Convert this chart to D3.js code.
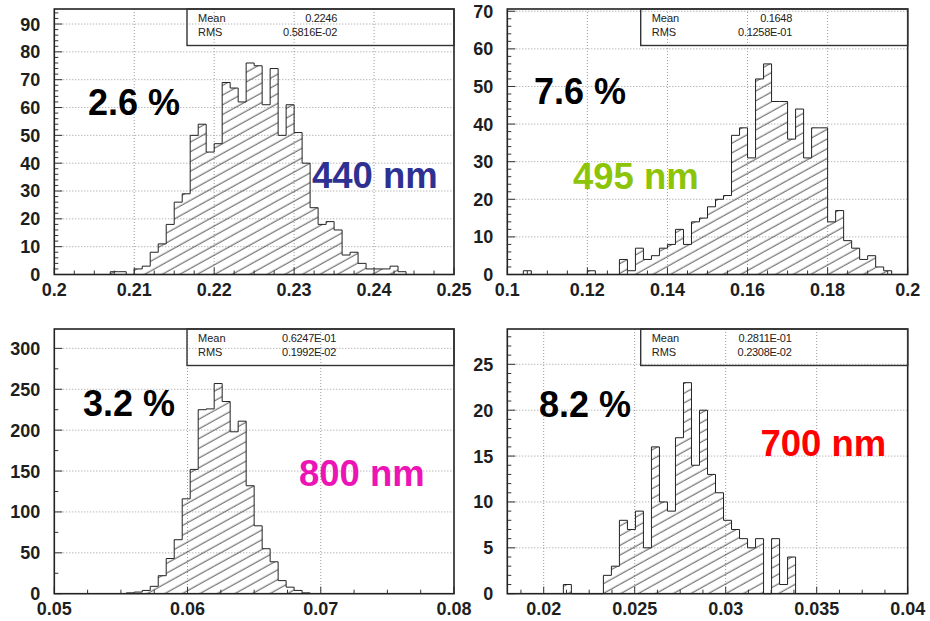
<!DOCTYPE html>
<html>
<head>
<meta charset="utf-8">
<script src="https://cdn.jsdelivr.net/npm/d3@7"></script>
<style>
  body { margin: 0; background: #fff; }
  svg text { font-family: "Liberation Sans", Arial, Helvetica, sans-serif; }
</style>
</head>
<body>
<svg id="chart" width="930" height="621"></svg>
<script>
// bin counts, 50 bins per histogram
const counts440 = [0,0,0,0,0,0,0,1,1,0, 2,3,8,11,18,26,29,50,54,44, 47,69,67,62,76,75,61,74,50,61,
                   51,40,24,18,19,16,7,8,4,2, 2,2,3,1,0,0,0,0,0,0];
const counts495 = [0,0,1,0,0,0,0,0,0,0, 1,0,0,0,4,1,7,4,5,7, 8,12,8,14,15,18,20,21,37,39,
                   31,52,56,46,46,36,44,31,39,39, 14,17,9,7,4,5,2,1,0,0];
const counts800 = [0,0,0,0,0,0,0,0,0,1, 2,4,9,22,43,66,116,152,225,226, 257,235,198,211,132,83,55,39,16,8,
                   4,1,0,0,0,0,0,0,0,0, 0,0,0,0,0,0,0,0,0,0];
const counts700 = [0,0,0,0,0,0,0,1,0,0, 0,0,2,3,8,7,9,5,16,10, 9,17,23,14,20,13,11,8,7,6,
                   5,6,0,6,1,4,0,0,0,0, 0,0,0,0,0,0,0,0,0,0];

const ranges = [[0.2, 0.25], [0.1, 0.2], [0.05, 0.08], [0.018, 0.04]];
const xTicks440 = [0.2, 0.21, 0.22, 0.23, 0.24, 0.25];
const xTicks495 = [0.1, 0.12, 0.14, 0.16, 0.18, 0.2];
const xTicks800 = [0.05, 0.06, 0.07, 0.08];
const xTicks700 = [0.02, 0.025, 0.03, 0.035, 0.04];
const yTicks440 = [0, 10, 20, 30, 40, 50, 60, 70, 80, 90];
const yTicks495 = [0, 10, 20, 30, 40, 50, 60, 70];
const yTicks800 = [0, 50, 100, 150, 200, 250, 300];
const yTicks700 = [0, 5, 10, 15, 20, 25];
const yMaxes = [95.4, 70.6, 323.7, 28.85];

const statLabels = ['Mean', 'RMS'];
const stats440 = ['0.2246', '0.5816E-02'];
const stats495 = ['0.1648', '0.1258E-01'];
const stats800 = ['0.6247E-01', '0.1992E-02'];
const stats700 = ['0.2811E-01', '0.2308E-02'];

const resolutions = ['2.6 %', '7.6 %', '3.2 %', '8.2 %'];
const wavelengths = ['440 nm', '495 nm', '800 nm', '700 nm'];
const waveColors = ['#2e3192', '#8cc408', '#ec14b4', '#ff0000'];

const svg = d3.select('#chart');

const defs = svg.append('defs');
defs.append('pattern')
    .attr('id', 'hatch')
    .attr('patternUnits', 'userSpaceOnUse')
    .attr('width', 8).attr('height', 8.5)
    .attr('patternTransform', 'rotate(-29)')
  .append('line')
    .attr('x1', -1).attr('y1', 4).attr('x2', 9).attr('y2', 4)
    .attr('stroke', '#3a3a3a').attr('stroke-width', 0.9);

// layout of the four pads
const panels = [
  { counts: counts440, range: ranges[0], xTicks: xTicks440, yTicks: yTicks440, yMax: yMaxes[0],
    xMinor: 0.0025, yMinor: 2, stats: stats440, res: resolutions[0], wl: wavelengths[0], color: waveColors[0],
    left: 54.3, right: 454, top: 9, bottom: 274.5, boxLeft: 187, valRight: 337,
    resPos: [88, 115], wlPos: [312, 188] },
  { counts: counts495, range: ranges[1], xTicks: xTicks495, yTicks: yTicks495, yMax: yMaxes[1],
    xMinor: 0.005, yMinor: 2, stats: stats495, res: resolutions[1], wl: wavelengths[1], color: waveColors[1],
    left: 507.3, right: 907.7, top: 9, bottom: 274.5, boxLeft: 640.7, valRight: 792,
    resPos: [534, 104], wlPos: [573, 188.5] },
  { counts: counts800, range: ranges[2], xTicks: xTicks800, yTicks: yTicks800, yMax: yMaxes[2],
    xMinor: 0.0025, yMinor: 25, stats: stats800, res: resolutions[2], wl: wavelengths[2], color: waveColors[2],
    left: 54.3, right: 454, top: 329, bottom: 593.7, boxLeft: 187, valRight: 336,
    resPos: [83, 415.5], wlPos: [299, 485.5] },
  { counts: counts700, range: ranges[3], xTicks: xTicks700, yTicks: yTicks700, yMax: yMaxes[3],
    xMinor: 0.00125, yMinor: 1, stats: stats700, res: resolutions[3], wl: wavelengths[3], color: waveColors[3],
    left: 507.3, right: 907.7, top: 329, bottom: 593.7, boxLeft: 640.7, valRight: 791.5,
    resPos: [539, 416.5], wlPos: [760.5, 455.5] }
];

function minorValues(lo, hi, step) {
  const out = [];
  const start = Math.ceil(lo / step - 1e-6) * step;
  for (let v = start; v <= hi + 1e-9; v += step) out.push(v);
  return out;
}

function drawPanel(p) {
  const nBins = p.counts.length;
  const binW = (p.range[1] - p.range[0]) / nBins;
  const x = d3.scaleLinear().domain(p.range).range([p.left, p.right]);
  const y = d3.scaleLinear().domain([0, p.yMax]).range([p.bottom, p.top]);
  const g = svg.append('g');

  // dotted grid at the major ticks
  const eps = 1e-9;
  g.append('g').selectAll('line')
    .data(p.xTicks.filter(v => v > p.range[0] + eps && v < p.range[1] - eps))
    .join('line')
      .attr('x1', d => x(d)).attr('x2', d => x(d))
      .attr('y1', p.top).attr('y2', p.bottom)
      .attr('stroke', '#9a9a9a').attr('stroke-width', 1).attr('stroke-dasharray', '1,2');
  g.append('g').selectAll('line')
    .data(p.yTicks.filter(v => v > 0 && v < p.yMax))
    .join('line')
      .attr('x1', p.left).attr('x2', p.right)
      .attr('y1', d => y(d)).attr('y2', d => y(d))
      .attr('stroke', '#9a9a9a').attr('stroke-width', 1).attr('stroke-dasharray', '1,2');

  // hatched bars
  const bins = p.counts.map((c, i) => ({ lo: p.range[0] + i * binW, hi: p.range[0] + (i + 1) * binW, c }));
  g.append('g').selectAll('rect')
    .data(bins.filter(b => b.c > 0))
    .join('rect')
      .attr('x', d => x(d.lo)).attr('width', d => x(d.hi) - x(d.lo))
      .attr('y', d => y(d.c)).attr('height', d => y(0) - y(d.c))
      .attr('fill', 'url(#hatch)');

  // step outline
  const first = bins.findIndex(b => b.c > 0);
  let last = bins.length - 1;
  while (bins[last].c === 0) last--;
  const pts = [[bins[first].lo, 0]];
  for (let i = first; i <= last; i++) {
    pts.push([bins[i].lo, bins[i].c], [bins[i].hi, bins[i].c]);
  }
  pts.push([bins[last].hi, 0]);
  g.append('path')
    .attr('d', d3.line().x(d => x(d[0])).y(d => y(d[1]))(pts))
    .attr('fill', 'none').attr('stroke', '#222').attr('stroke-width', 1);

  // ticks (inside the frame)
  const xMinorTicks = minorValues(p.range[0], p.range[1], p.xMinor);
  g.append('g').selectAll('line')
    .data(xMinorTicks)
    .join('line')
      .attr('x1', d => x(d)).attr('x2', d => x(d))
      .attr('y1', p.bottom)
      .attr('y2', d => p.bottom - (p.xTicks.some(t => Math.abs(t - d) < 1e-7) ? 7 : 4))
      .attr('stroke', '#333').attr('stroke-width', 1);
  const yMinorTicks = minorValues(0, p.yMax, p.yMinor);
  g.append('g').selectAll('line')
    .data(yMinorTicks)
    .join('line')
      .attr('y1', d => y(d)).attr('y2', d => y(d))
      .attr('x1', p.left)
      .attr('x2', d => p.left + (p.yTicks.some(t => Math.abs(t - d) < 1e-7) ? 8 : 4))
      .attr('stroke', '#333').attr('stroke-width', 1);

  // frame
  g.append('rect')
    .attr('x', p.left).attr('y', p.top)
    .attr('width', p.right - p.left).attr('height', p.bottom - p.top)
    .attr('fill', 'none').attr('stroke', '#222').attr('stroke-width', 1.6);

  // tick labels
  g.append('g').selectAll('text')
    .data(p.xTicks)
    .join('text')
      .attr('x', d => x(d)).attr('y', p.bottom + 21.5)
      .attr('text-anchor', 'middle')
      .attr('font-size', 18).attr('font-weight', 'bold')
      .attr('fill', '#1e1e1e')
      .text(d => String(d));
  g.append('g').selectAll('text')
    .data(p.yTicks)
    .join('text')
      .attr('x', p.left - 14).attr('y', d => y(d)).attr('dy', '0.36em')
      .attr('text-anchor', 'end')
      .attr('font-size', 18).attr('font-weight', 'bold')
      .attr('fill', '#1e1e1e')
      .text(d => String(d));

  // stats box
  g.append('rect')
    .attr('x', p.boxLeft).attr('y', p.top)
    .attr('width', p.right - p.boxLeft).attr('height', 36.5)
    .attr('fill', 'none').attr('stroke', '#333').attr('stroke-width', 1.4);
  statLabels.forEach((lab, i) => {
    const by = p.top + 12.8 + i * 13.8;
    g.append('text').attr('x', p.boxLeft + 11).attr('y', by)
      .attr('font-size', 11).attr('fill', '#222').text(lab);
    g.append('text').attr('x', p.valRight).attr('y', by)
      .attr('text-anchor', 'end').attr('letter-spacing', -0.3)
      .attr('font-size', 11).attr('fill', '#222').text(p.stats[i]);
  });

  // annotations
  g.append('text').attr('x', p.resPos[0]).attr('y', p.resPos[1])
    .attr('font-size', 36).attr('font-weight', 'bold').attr('fill', '#000')
    .text(p.res);
  g.append('text').attr('x', p.wlPos[0]).attr('y', p.wlPos[1])
    .attr('font-size', 36.5).attr('font-weight', 'bold').attr('fill', p.color)
    .text(p.wl);
}

panels.forEach(drawPanel);
</script>
</body>
</html>
